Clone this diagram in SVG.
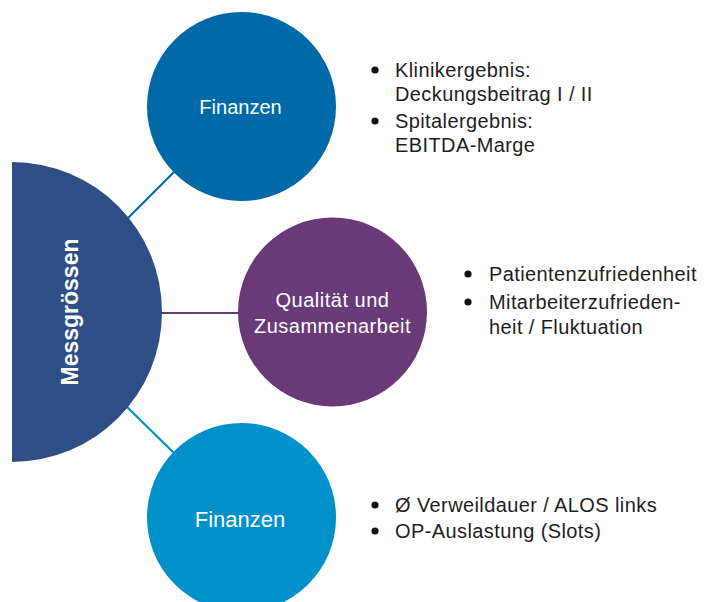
<svg xmlns="http://www.w3.org/2000/svg" width="719" height="602" viewBox="0 0 719 602">
<style>
.lbl{font-family:"Liberation Sans",Arial,sans-serif;fill:#ffffff;text-anchor:middle}
.txt{font-family:"Liberation Sans",Arial,sans-serif;font-size:20px;letter-spacing:0.4px;fill:#1e1e1e}
.dot{fill:#111111}
</style>
<rect width="719" height="602" fill="#ffffff"/>
<g id="connectors" fill="none" stroke-width="2.2">
<line x1="128" y1="218" x2="176" y2="170" stroke="#006aa8"/>
<line x1="160" y1="313" x2="240" y2="313" stroke="#6a3a78"/>
<line x1="126" y1="406" x2="176" y2="455" stroke="#0090c8"/>
</g>
<g id="messgroessen">
<path d="M12 162 A150 150 0 0 1 12 462 Z" fill="#2e4f85"/>
<text class="lbl" transform="translate(78 312) rotate(-90)" font-size="23" font-weight="bold">Messgrössen</text>
</g>
<g id="finanzen-top">
<circle cx="241.5" cy="106.5" r="94.5" fill="#006aa8"/>
<text class="lbl" x="240.5" y="114" font-size="20">Finanzen</text>
</g>
<g id="qualitaet">
<circle cx="332.5" cy="312" r="94.5" fill="#6a3a78"/>
<text class="lbl" x="332.5" y="307" font-size="20" letter-spacing="0.5">Qualität und</text>
<text class="lbl" x="332.5" y="333" font-size="20" letter-spacing="0.5">Zusammenarbeit</text>
</g>
<g id="finanzen-bottom">
<circle cx="241.5" cy="517.5" r="94.5" fill="#0091cb"/>
<text class="lbl" x="240" y="527" font-size="22">Finanzen</text>
</g>
<g id="list-top">
<circle class="dot" cx="375" cy="70" r="3.6"/>
<text class="txt" x="395" y="77">Klinikergebnis:</text>
<text class="txt" x="395" y="101">Deckungsbeitrag I / II</text>
<circle class="dot" cx="375" cy="121" r="3.6"/>
<text class="txt" x="395" y="128">Spitalergebnis:</text>
<text class="txt" x="395" y="152">EBITDA-Marge</text>
</g>
<g id="list-middle">
<circle class="dot" cx="468" cy="274" r="3.6"/>
<text class="txt" x="489" y="281">Patientenzufriedenheit</text>
<circle class="dot" cx="468" cy="302" r="3.6"/>
<text class="txt" x="489" y="309">Mitarbeiterzufrieden-</text>
<text class="txt" x="489" y="334">heit / Fluktuation</text>
</g>
<g id="list-bottom">
<circle class="dot" cx="375" cy="505" r="3.6"/>
<text class="txt" x="395" y="512">Ø Verweildauer / ALOS links</text>
<circle class="dot" cx="375" cy="531" r="3.6"/>
<text class="txt" x="395" y="538">OP-Auslastung (Slots)</text>
</g>
</svg>
